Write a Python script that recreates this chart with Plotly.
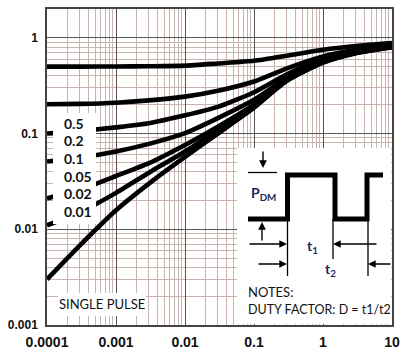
import plotly.graph_objects as go

# ---------------- data ----------------
pulse_width = [0.0001, 0.0003, 0.001, 0.003, 0.01, 0.03, 0.1, 0.3, 1, 3, 10]
d_0_5  = [0.5, 0.5, 0.502, 0.505, 0.512, 0.54, 0.575, 0.65, 0.75, 0.82, 0.88]
d_0_2  = [0.202, 0.204, 0.21, 0.222, 0.243, 0.28, 0.35, 0.48, 0.64, 0.75, 0.84]
d_0_1  = [0.1, 0.106, 0.116, 0.128, 0.155, 0.19, 0.27, 0.415, 0.60, 0.725, 0.82]
d_0_05 = [0.051, 0.056, 0.065, 0.078, 0.101, 0.145, 0.225, 0.38, 0.575, 0.71, 0.81]
d_0_02 = [0.021, 0.026, 0.036, 0.049, 0.076, 0.118, 0.20, 0.36, 0.56, 0.70, 0.805]
d_0_01 = [0.011, 0.015, 0.024, 0.039, 0.065, 0.108, 0.19, 0.355, 0.555, 0.695, 0.80]
single = [0.003, 0.0068, 0.0158, 0.030, 0.057, 0.10, 0.186, 0.36, 0.55, 0.69, 0.80]

series = [d_0_5, d_0_2, d_0_1, d_0_05, d_0_02, d_0_01, single]
duty_labels = ["0.5", "0.2", "0.1", "0.05", "0.02", "0.01"]

x_tickvals = [0.0001, 0.001, 0.01, 0.1, 1, 10]
x_ticktext = ["0.0001", "0.001", "0.01", "0.1", "1", "10"]
y_tickvals = [0.001, 0.01, 0.1, 1]
y_ticktext = ["0.001", "0.01", "0.1", "1"]

# ---------------- layout geometry ----------------
W, H = 411, 352
L, R, T, B = 47, 392, 9, 325


def px(x):
    return (x - L) / (R - L)


def py(y):
    return (B - y) / (B - T)


fig = go.Figure()
for s in series:
    fig.add_trace(go.Scatter(x=pulse_width, y=s, mode="lines",
                             line=dict(color="black", width=4.6, shape="spline", smoothing=0.6),
                             hoverinfo="skip", showlegend=False))

minor_x = [m * 10 ** e for e in range(-4, 1) for m in range(2, 10)]
minor_y = [m * 10 ** e for e in range(-3, 1) for m in range(2, 10)]

tick_font = dict(family="Liberation Sans, Arial, sans-serif", color="#111", weight="bold")

fig.update_xaxes(type="log", range=[-4, 1], tickvals=x_tickvals, ticktext=x_ticktext,
                 showgrid=True, gridcolor="#555", gridwidth=1,
                 minor=dict(tickvals=minor_x, showgrid=True, gridcolor="#c9b3ae", gridwidth=1, ticks=""),
                 showline=True, linecolor="#444", linewidth=1.5, mirror=True,
                 ticks="", zeroline=False, tickfont=dict(size=14, **tick_font),
                 ticklabelstandoff=3, automargin=False)
fig.update_yaxes(type="log", range=[-3, 0.301], tickvals=y_tickvals, ticktext=y_ticktext,
                 showgrid=True, gridcolor="#555", gridwidth=1,
                 minor=dict(tickvals=minor_y, showgrid=True, gridcolor="#c9b3ae", gridwidth=1, ticks=""),
                 showline=True, linecolor="#444", linewidth=1.5, mirror=True,
                 ticks="", zeroline=False, tickfont=dict(size=12, **tick_font),
                 ticklabelstandoff=5, automargin=False)

shapes = []
annotations = []


def rect(x0, y0, x1, y1):
    shapes.append(dict(type="rect", xref="paper", yref="paper", x0=px(x0), x1=px(x1),
                       y0=py(y1), y1=py(y0), fillcolor="white", line=dict(width=0), layer="above"))


def seg(x0, y0, x1, y1, w=1.3):
    shapes.append(dict(type="line", xref="paper", yref="paper", x0=px(x0), x1=px(x1),
                       y0=py(y0), y1=py(y1), line=dict(color="black", width=w), layer="above"))


def arrow(hx, hy, tx, ty):
    annotations.append(dict(xref="paper", yref="paper", x=px(hx), y=py(hy), ax=tx - hx, ay=ty - hy,
                            axref="pixel", ayref="pixel", text="", showarrow=True,
                            arrowhead=2, arrowsize=1.1, arrowwidth=1.4, arrowcolor="black"))


def label(x, y, text, size=13, color="#111", xanchor="left", weight="bold"):
    annotations.append(dict(xref="paper", yref="paper", x=px(x), y=py(y), text=text, showarrow=False,
                            xanchor=xanchor, yanchor="middle",
                            font=dict(family="Lato, Noto Sans, sans-serif", size=size, color=color,
                                      weight=weight)))


# white boxes
rect(53, 113, 96, 224)      # duty labels
rect(58, 293, 146, 316)     # single pulse
rect(237, 148, 391, 324)    # inset

# duty factor labels
for i, t in enumerate(duty_labels):
    label(62, 123 + i * 17.7, t, size=14)
label(102, 304, "SINGLE PULSE", size=13, xanchor="center", weight="normal")

# pulse waveform
path = "M {} {} L {} {} L {} {} L {} {} L {} {} L {} {} L {} {} L {} {}".format(
    px(248), py(219), px(287.5), py(219), px(287.5), py(175), px(335), py(175),
    px(335), py(219), px(367), py(219), px(367), py(175), px(383), py(175))
shapes.append(dict(type="path", xref="paper", yref="paper", path=path,
                   line=dict(color="black", width=5), layer="above"))

# reference lines and markers
seg(248, 172.5, 277, 172.5)
seg(287.5, 219, 287.5, 276)
seg(333, 219, 333, 259)
seg(368, 219, 368, 276)

arrow(263, 168, 263, 150)     # down arrow
arrow(262, 222, 262, 242)     # up arrow
arrow(287, 244, 248, 244)     # t1 right
arrow(333, 244, 378, 244)     # t1 left
arrow(287, 264, 257, 264)     # t2 right
arrow(368, 264, 392, 264)     # t2 left

label(249, 193, "P<sub>DM</sub>", size=14, color="#1c2a5a")
label(312, 246, "t<sub>1</sub>", size=14, color="#1c2a5a", xanchor="center")
label(330, 269, "t<sub>2</sub>", size=14, color="#1c2a5a", xanchor="center")
label(246, 292, "NOTES:", size=13, weight="normal")
label(246, 309, "DUTY FACTOR: D = t1/t2", size=12.5, weight="normal")

fig.update_layout(width=W, height=H, margin=dict(l=L, r=W - R, t=T, b=H - B, pad=0),
                  paper_bgcolor="white", plot_bgcolor="white",
                  shapes=shapes, annotations=annotations, showlegend=False)

fig.write_html("out.html")
